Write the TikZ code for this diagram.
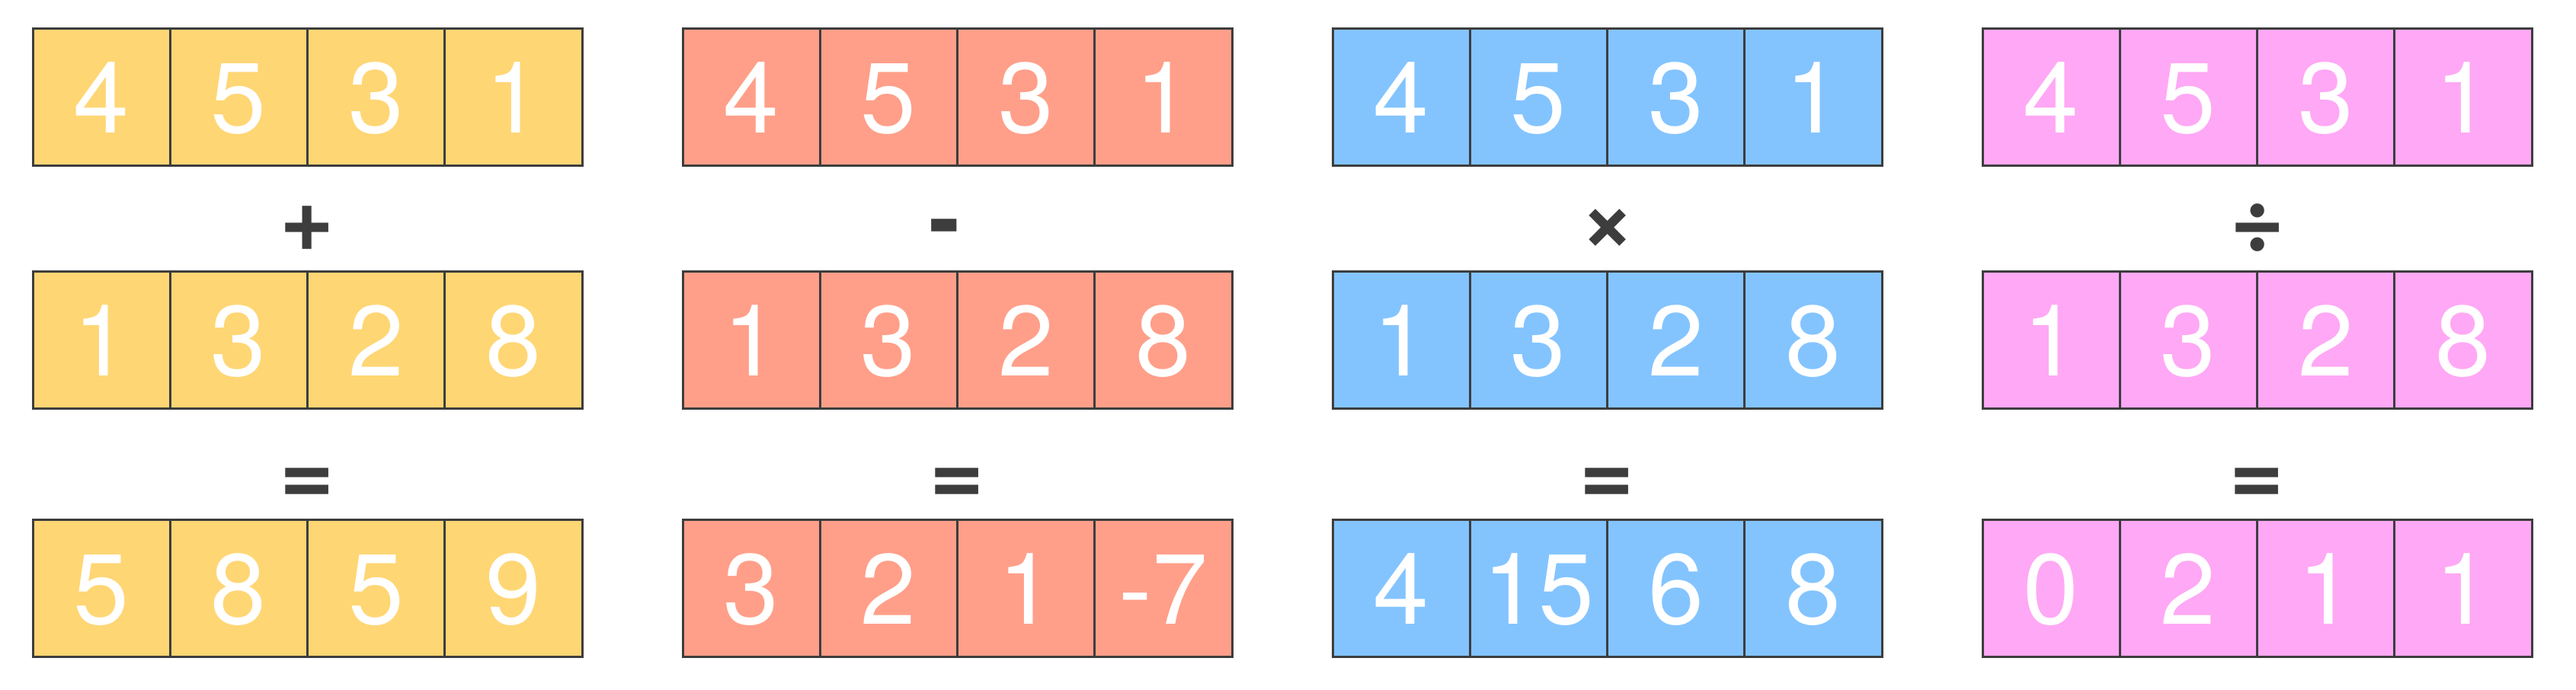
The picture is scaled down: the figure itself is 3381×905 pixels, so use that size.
\documentclass[tikz,border=0pt]{standalone}
\usepackage{fontspec}
\setmainfont{TeX Gyre Heros}
\definecolor{ink}{HTML}{3D3D3D}
\definecolor{cy}{HTML}{FFD674}
\definecolor{cr}{HTML}{FF9F89}
\definecolor{cb}{HTML}{83C4FF}
\definecolor{cp}{HTML}{FFA8F5}
\begin{document}
\begin{tikzpicture}[x=1pt,y=-1pt,
  cell/.style={draw=ink, line width=3pt, minimum width=180.25pt, minimum height=180pt,
    inner sep=0pt, text height=94pt, text depth=0pt, text=white,
    font=\fontsize{131}{131}\selectfont},
  op/.style={anchor=base, inner sep=0pt, text=ink, font=\fontsize{122}{122}\selectfont\bfseries}]
\useasboundingbox (0,0) rectangle (3381,905);
\foreach \b/\col/\op/\ox/\res in {0/cy/+/403/{5,8,5,9},1/cr/-/1240/{3,2,1,-7},2/cb/×/2110/{4,15,6,8},3/cp/÷/2963/{0,2,1,1}}{
  \pgfmathsetmacro\xo{43+853*\b}
  \foreach \v [count=\c] in {4,5,3,1}
    \node[cell,fill=\col] (b\b r1c\c) at (\xo+180.25*\c-90.125,127) {\v};
  \foreach \v [count=\c] in {1,3,2,8}
    \node[cell,fill=\col] (b\b r2c\c) at (\xo+180.25*\c-90.125,446) {\v};
  \foreach \v [count=\c] in \res
    \node[cell,fill=\col] (b\b r3c\c) at (\xo+180.25*\c-90.125,772) {\v};
  \node[op] (op\b) at (\ox,329) {\op};
  \node[op] (eq\b) at (\xo+360.5,662) {=};
}
\end{tikzpicture}
\end{document}
